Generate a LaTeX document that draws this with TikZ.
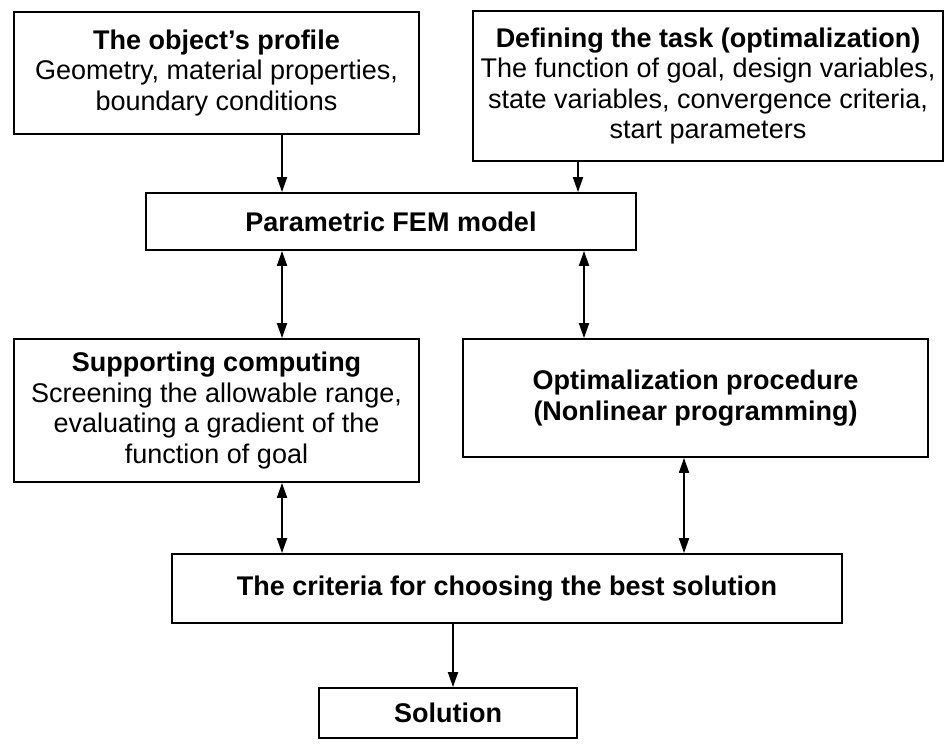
\documentclass[tikz,border=0pt]{standalone}
\usepackage{fontspec}
\setmainfont{Liberation Sans}
\usetikzlibrary{arrows.meta}
\begin{document}
\begin{tikzpicture}[x=1pt,y=-1pt,
  box/.style={draw, line width=1.8pt, rectangle, inner sep=0pt, align=center,
    font=\fontsize{27}{30.5}\selectfont},
  link/.style={line width=1.8pt, -{Triangle[length=15pt,width=10pt]}},
  duplex/.style={line width=1.8pt, {Triangle[length=15pt,width=10pt]}-{Triangle[length=15pt,width=10pt]}}]
\useasboundingbox (0,0) rectangle (944,751);
\fill[white] (0,0) rectangle (944,751);

% boxes
\node[box, minimum width=405pt, minimum height=122pt] (obj) at (216.5,73)
  {\textbf{The object’s profile}\\Geometry, material properties,\\boundary conditions};
\node[box, minimum width=470pt, minimum height=150pt] (task) at (708,86)
  {\textbf{Defining the task (optimalization)}\\The function of goal, design variables,\\state variables, convergence criteria,\\start parameters};
\node[box, minimum width=490pt, minimum height=57pt] (fem) at (391,221.5)
  {\textbf{Parametric FEM model}};
\node[box, minimum width=405pt, minimum height=143pt] (supp) at (216.5,410.5)
  {\textbf{Supporting computing}\\Screening the allowable range,\\evaluating a gradient of the\\function of goal};
\node[box, minimum width=465pt, minimum height=118pt] (optim) at (695.5,398)
  {\textbf{Optimalization procedure}\\\textbf{(Nonlinear programming)}};
\node[box, minimum width=670pt, minimum height=69pt] (crit) at (507,588.5)
  {\textbf{The criteria for choosing the best solution}};
\node[box, minimum width=258pt, minimum height=50pt] (sol) at (448,713)
  {\textbf{Solution}};

% columns of the connectors
\coordinate (xl) at (282,0);
\coordinate (xt) at (578,0);
\coordinate (xo) at (584,0);
\coordinate (xr) at (684,0);
\coordinate (xs) at (453,0);

% connectors
\draw[link] (obj.south -| xl) -- (fem.north -| xl);
\draw[link] (task.south -| xt) -- (fem.north -| xt);
\draw[duplex] (fem.south -| xl) -- (supp.north -| xl);
\draw[duplex] (fem.south -| xo) -- (optim.north -| xo);
\draw[duplex] (supp.south -| xl) -- (crit.north -| xl);
\draw[duplex] (optim.south -| xr) -- (crit.north -| xr);
\draw[link] (crit.south -| xs) -- (sol.north -| xs);
\end{tikzpicture}
\end{document}
